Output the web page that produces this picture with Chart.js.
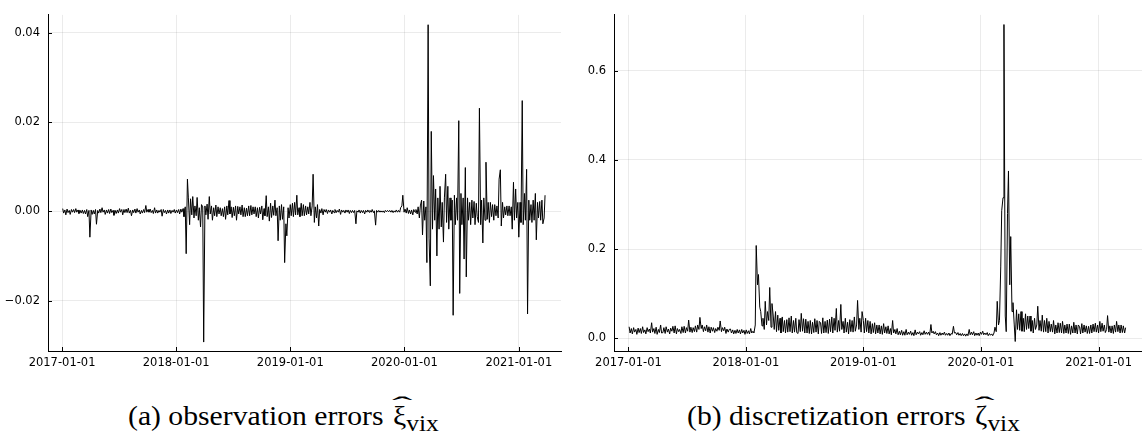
<!DOCTYPE html>
<html>
<head>
<meta charset="utf-8">
<script src="https://cdn.jsdelivr.net/npm/chart.js@4/dist/chart.umd.min.js"></script>
<style>
	body { margin: 0; background: #fff; width: 1142px; height: 438px; overflow: hidden; position: relative; }
	canvas { position: absolute; top: 0; }
	#obs-chart { left: 0; }
	#disc-chart { left: 571px; }
	.caption { position: absolute; top: 400px; font-family: "Liberation Serif", "DejaVu Serif", serif; font-size: 28px; color: #000; white-space: nowrap; transform-origin: left top; transform: scaleX(1.06); }
	.caption .hat { position: relative; display: inline-block; margin-left: 2px; }
	.caption .hat i { position: absolute; left: -1px; top: -8px; font-style: normal; font-size: 24px; transform: scaleX(2.4); transform-origin: left top; }
	.caption sub { font-size: 24px; vertical-align: -6px; }
</style>
</head>
<body>
<canvas id="obs-chart" width="571" height="375"></canvas>
<canvas id="disc-chart" width="571" height="375"></canvas>
<div class="caption" style="left:128px">(a) observation errors <span class="hat">ξ<i>ˆ</i></span><sub>vix</sub></div>
<div class="caption" style="left:687px">(b) discretization errors <span class="hat">ζ<i>ˆ</i></span><sub>vix</sub></div>
<script>
// Two samples a week (Tuesday, Friday), first one on 2017-01-03.
var firstDate = "2017-01-03";
var weekOffsets = [0, 3];

// Observation errors (left panel), one line = 5 weeks.
var obsErrors = [
	0.0006, -0.0004, 0.0003, -0.0008, 0.0005, -0.0003, 0.0002, -0.0007, 0.0004, -0.0002,
	0.0004, -0.0003, 0.0006, -0.0002, 0.0003, -0.0005, 0.0002, -0.0004, 0.0003, -0.0005,
	0.0002, -0.0006, 0.0004, -0.0012, 0.0002, -0.0058, 0.0003, -0.0007, 0.0002, -0.0006,
	0.0004, -0.0029, 0.0002, -0.0004, 0.0005, -0.0003, 0.0008, -0.0002, 0.0003, -0.0007,
	0.0003, -0.0004, 0.0004, -0.0005, 0.0005, -0.0003, 0.0002, -0.0009, 0.0002, -0.0005,
	0.0003, -0.0004, 0.0006, -0.0002, 0.0004, -0.0008, 0.0004, -0.0003, 0.0005, -0.0003,
	0.0007, -0.0004, 0.0002, -0.0010, 0.0003, -0.0003, 0.0005, -0.0004, 0.0006, -0.0002,
	0.0003, -0.0006, 0.0002, -0.0004, 0.0004, -0.0003, 0.0013, -0.0002, 0.0004, -0.0002,
	0.0005, -0.0003, 0.0002, -0.0005, 0.0008, -0.0004, 0.0003, -0.0004, 0.0002, -0.0002,
	0.0004, -0.0011, 0.0004, -0.0003, 0.0002, -0.0006, 0.0003, -0.0004, 0.0003, -0.0005,
	0.0002, -0.0002, 0.0004, -0.0004, 0.0003, -0.0003, 0.0004, -0.0006, 0.0005, -0.0002,
	0.0006, -0.0012, 0.0010, -0.0095, 0.0072, 0.0030, -0.0030, 0.0028, -0.0008, 0.0033,
	-0.0015, 0.0012, -0.0010, 0.0031, -0.0020, 0.0008, -0.0035, 0.0015, 0.0010, -0.0293,
	0.0012, -0.0008, 0.0016, -0.0018, 0.0033, -0.0006, 0.0012, -0.0020, 0.0008, -0.0010,
	0.0014, -0.0012, 0.0010, -0.0006, 0.0008, -0.0010, 0.0006, -0.0012, 0.0010, -0.0018,
	0.0012, -0.0008, 0.0024, -0.0006, 0.0010, -0.0014, 0.0009, -0.0010, 0.0012, -0.0020,
	0.0011, -0.0006, 0.0010, -0.0008, 0.0014, -0.0012, 0.0008, -0.0012, 0.0007, -0.0010,
	0.0012, -0.0010, 0.0013, -0.0008, 0.0010, -0.0006, 0.0010, -0.0012, 0.0008, -0.0015,
	0.0009, -0.0006, 0.0012, -0.0019, 0.0006, -0.0010, 0.0035, -0.0012, 0.0010, -0.0022,
	0.0018, -0.0014, 0.0012, -0.0009, 0.0025, -0.0010, 0.0008, -0.0066, 0.0012, -0.0020,
	0.0015, -0.0018, 0.0010, -0.0115, -0.0028, -0.0055, 0.0008, -0.0015, 0.0015, -0.0010,
	0.0018, -0.0012, 0.0020, -0.0008, 0.0036, -0.0008, 0.0008, -0.0012, 0.0018, -0.0010,
	0.0015, -0.0010, 0.0012, -0.0008, 0.0010, -0.0006, 0.0020, -0.0010, 0.0012, 0.0083,
	-0.0025, 0.0010, -0.0015, 0.0015, -0.0033, 0.0004, -0.0004, 0.0006, -0.0008, 0.0004,
	-0.0002, 0.0004, -0.0005, 0.0003, -0.0002, 0.0003, -0.0006, 0.0002, -0.0003, 0.0004,
	-0.0003, 0.0002, -0.0002, 0.0005, -0.0007, 0.0003, -0.0002, 0.0002, -0.0004, 0.0003,
	-0.0002, 0.0003, -0.0005, 0.0002, -0.0003, 0.0002, -0.0003, 0.0002, -0.0028, 0.0001,
	-0.0002, 0.0003, -0.0004, 0.0002, -0.0003, 0.0002, -0.0006, 0.0002, -0.0002, 0.0003,
	-0.0002, 0.0002, -0.0002, 0.0004, -0.0003, 0.0001, -0.0031, 0.0002, -0.0002, 0.0002,
	-0.0002, 0.0001, -0.0002, 0.0001, -0.0003, 0.0002, -0.0001, 0.0002, -0.0001, 0.0002,
	-0.0002, 0.0002, -0.0003, 0.0001, -0.0002, 0.0003, -0.0002, 0.0002, -0.0002, 0.0008,
	0.0012, 0.0036, -0.0002, 0.0005, -0.0004, 0.0008, -0.0005, 0.0003, -0.0006, 0.0003,
	-0.0008, 0.0004, -0.0002, 0.0004, -0.0006, 0.0010, -0.0015, 0.0012, 0.0025, -0.0053,
	0.0023, -0.0020, 0.0010, -0.0115, 0.0418, -0.0060, -0.0167, 0.0179, -0.0040, 0.0080,
	-0.0020, 0.0050, -0.0100, 0.0030, -0.0040, 0.0056, -0.0035, 0.0020, -0.0069, 0.0030,
	0.0083, -0.0025, 0.0056, -0.0040, 0.0030, -0.0020, 0.0025, -0.0233, 0.0036, -0.0030,
	0.0030, -0.0020, 0.0203, -0.0184, 0.0040, -0.0030, 0.0030, -0.0107, 0.0098, -0.0147,
	0.0030, -0.0020, 0.0020, -0.0030, 0.0025, -0.0015, 0.0022, -0.0030, 0.0018, -0.0012,
	-0.0025, 0.0231, -0.0030, 0.0025, -0.0071, 0.0030, -0.0020, 0.0110, -0.0018, 0.0020,
	-0.0025, 0.0020, -0.0012, 0.0015, -0.0020, 0.0015, -0.0010, 0.0012, -0.0015, 0.0072,
	0.0093, -0.0033, 0.0020, -0.0015, 0.0010, -0.0008, 0.0012, -0.0010, 0.0012, -0.0010,
	0.0010, -0.0040, 0.0065, -0.0020, 0.0050, -0.0015, 0.0020, -0.0058, 0.0020, -0.0025,
	0.0248, -0.0030, 0.0040, -0.0020, 0.0094, -0.0230, 0.0025, -0.0020, 0.0015, -0.0025,
	0.0025, -0.0020, 0.0040, -0.0064, 0.0020, -0.0015, 0.0022, -0.0020, 0.0025, -0.0028,
	-0.0015, 0.0036
];

// Discretization errors (right panel), one line = 5 weeks.
var discErrors = [
	0.026, 0.012, 0.022, 0.010, 0.024, 0.014, 0.020, 0.009, 0.023, 0.013,
	0.022, 0.011, 0.026, 0.013, 0.019, 0.010, 0.024, 0.015, 0.021, 0.012,
	0.035, 0.014, 0.022, 0.011, 0.025, 0.009, 0.020, 0.013, 0.030, 0.012,
	0.013, 0.024, 0.011, 0.026, 0.014, 0.021, 0.010, 0.023, 0.016, 0.027,
	0.012, 0.028, 0.010, 0.022, 0.015, 0.020, 0.011, 0.026, 0.013, 0.027,
	0.012, 0.024, 0.016, 0.041, 0.014, 0.025, 0.013, 0.024, 0.015, 0.028,
	0.014, 0.030, 0.020, 0.047, 0.022, 0.030, 0.015, 0.026, 0.017, 0.030,
	0.014, 0.026, 0.012, 0.025, 0.016, 0.024, 0.013, 0.022, 0.016, 0.025,
	0.018, 0.039, 0.015, 0.024, 0.017, 0.025, 0.011, 0.021, 0.014, 0.020,
	0.021, 0.012, 0.019, 0.010, 0.018, 0.011, 0.020, 0.012, 0.019, 0.010,
	0.020, 0.012, 0.018, 0.009, 0.019, 0.011, 0.017, 0.010, 0.022, 0.012,
	0.016, 0.012, 0.030, 0.208, 0.120, 0.143, 0.070, 0.060, 0.028, 0.045,
	0.020, 0.083, 0.030, 0.060, 0.040, 0.114, 0.025, 0.078, 0.050, 0.020,
	0.060, 0.015, 0.052, 0.018, 0.045, 0.012, 0.048, 0.015, 0.040, 0.012,
	0.042, 0.014, 0.046, 0.015, 0.050, 0.012, 0.040, 0.014, 0.045, 0.013,
	0.011, 0.042, 0.015, 0.056, 0.016, 0.044, 0.012, 0.043, 0.012, 0.038,
	0.011, 0.040, 0.010, 0.036, 0.013, 0.044, 0.014, 0.040, 0.010, 0.038,
	0.035, 0.011, 0.046, 0.012, 0.038, 0.013, 0.041, 0.011, 0.043, 0.015,
	0.048, 0.012, 0.045, 0.018, 0.067, 0.014, 0.040, 0.016, 0.076, 0.020,
	0.038, 0.012, 0.045, 0.014, 0.036, 0.010, 0.042, 0.015, 0.040, 0.014,
	0.048, 0.016, 0.030, 0.085, 0.020, 0.045, 0.014, 0.060, 0.040, 0.012,
	0.045, 0.015, 0.040, 0.012, 0.038, 0.010, 0.033, 0.013, 0.035, 0.010,
	0.030, 0.012, 0.030, 0.010, 0.028, 0.009, 0.033, 0.012, 0.026, 0.011,
	0.028, 0.010, 0.022, 0.008, 0.040, 0.012, 0.020, 0.010, 0.022, 0.008,
	0.016, 0.008, 0.018, 0.007, 0.015, 0.007, 0.020, 0.008, 0.014, 0.009,
	0.016, 0.007, 0.013, 0.006, 0.019, 0.008, 0.014, 0.010, 0.015, 0.007,
	0.013, 0.008, 0.017, 0.009, 0.014, 0.009, 0.014, 0.007, 0.031, 0.012,
	0.016, 0.010, 0.015, 0.008, 0.012, 0.006, 0.013, 0.007, 0.012, 0.008,
	0.014, 0.007, 0.011, 0.007, 0.012, 0.006, 0.011, 0.009, 0.027, 0.012,
	0.013, 0.008, 0.013, 0.007, 0.011, 0.006, 0.011, 0.006, 0.010, 0.005,
	0.010, 0.006, 0.020, 0.008, 0.014, 0.008, 0.015, 0.006, 0.012, 0.007,
	0.012, 0.006, 0.014, 0.009, 0.016, 0.008, 0.012, 0.008, 0.013, 0.006,
	0.011, 0.007, 0.010, 0.006, 0.012, 0.025, 0.015, 0.083, 0.030, 0.040,
	0.160, 0.286, 0.315, 0.703, 0.050, 0.015, 0.280, 0.375, 0.120, 0.228,
	0.060, 0.080, 0.030, -0.007, 0.064, 0.020, 0.055, 0.018, 0.060, 0.016,
	0.045, 0.015, 0.055, 0.020, 0.050, 0.022, 0.050, 0.016, 0.040, 0.012,
	0.045, 0.020, 0.030, 0.072, 0.018, 0.040, 0.016, 0.052, 0.014, 0.040,
	0.015, 0.045, 0.012, 0.038, 0.015, 0.032, 0.014, 0.040, 0.010, 0.030,
	0.012, 0.035, 0.013, 0.034, 0.012, 0.038, 0.011, 0.030, 0.012, 0.032,
	0.011, 0.032, 0.009, 0.028, 0.012, 0.036, 0.012, 0.030, 0.010, 0.030,
	0.026, 0.010, 0.033, 0.012, 0.030, 0.014, 0.028, 0.011, 0.027, 0.011,
	0.030, 0.012, 0.032, 0.015, 0.034, 0.014, 0.030, 0.012, 0.038, 0.015,
	0.034, 0.016, 0.030, 0.013, 0.020, 0.051, 0.014, 0.028, 0.012, 0.028,
	0.011, 0.030, 0.014, 0.038, 0.015, 0.030, 0.012, 0.030, 0.013, 0.028,
	0.012, 0.024
];

// Axis ticks.
var dateTicks = ["2017-01-01", "2018-01-01", "2019-01-01", "2020-01-01", "2021-01-01"];
var obsTicks = [-0.02, 0, 0.02, 0.04];
var obsTickLabels = ["\u22120.02", "0.00", "0.02", "0.04"];
var discTicks = [0, 0.2, 0.4, 0.6];
var discTickLabels = ["0.0", "0.2", "0.4", "0.6"];

var DAY = 86400000;
var origin = Date.UTC(2017, 0, 1);
function dayOf(s) {
	var p = s.split("-");
	return (Date.UTC(+p[0], +p[1] - 1, +p[2]) - origin) / DAY;
}
var firstDay = dayOf(firstDate);
var dateTickDays = dateTicks.map(dayOf);

function toPoints(values) {
	var n = weekOffsets.length;
	return values.map(function (v, i) {
		return { x: firstDay + 7 * Math.floor(i / n) + weekOffsets[i % n], y: v };
	});
}

// Small inward tick marks, like the GR backend draws them.
var innerTicks = {
	id: "innerTicks",
	afterDraw: function (chart) {
		var ctx = chart.ctx, area = chart.chartArea;
		var xs = chart.scales.x, ys = chart.scales.y;
		ctx.save();
		ctx.strokeStyle = "#000";
		ctx.lineWidth = 1;
		ctx.beginPath();
		xs.ticks.forEach(function (t) {
			var px = Math.round(xs.getPixelForValue(t.value)) + 0.5;
			ctx.moveTo(px, area.bottom);
			ctx.lineTo(px, area.bottom - 4);
		});
		ys.ticks.forEach(function (t) {
			var py = Math.round(ys.getPixelForValue(t.value)) + 0.5;
			ctx.moveTo(area.left, py);
			ctx.lineTo(area.left + 4, py);
		});
		ctx.stroke();
		ctx.restore();
	}
};

function makeChart(id, values, yMin, yMax, yTicks, yLabels, yWidth, padRight) {
	return new Chart(document.getElementById(id), {
		type: "line",
		data: {
			datasets: [{
				data: toPoints(values),
				borderColor: "#000",
				borderWidth: 1,
				pointRadius: 0,
				tension: 0,
				fill: false
			}]
		},
		options: {
			responsive: false,
			animation: false,
			devicePixelRatio: 1,
			layout: { padding: { top: 5, right: padRight, bottom: 0, left: 0 } },
			plugins: { legend: { display: false }, tooltip: { enabled: false } },
			scales: {
				x: {
					type: "linear",
					min: -45,
					max: 1596,
					afterBuildTicks: function (scale) {
						scale.ticks = dateTickDays.map(function (d) { return { value: d }; });
					},
					afterFit: function (scale) { scale.height = 24; },
					ticks: {
						color: "#000",
						font: { family: "DejaVu Sans", size: 11.5 },
						padding: 5,
						maxRotation: 0,
						autoSkip: false,
						callback: function (v, i) { return dateTicks[i]; }
					},
					grid: { color: "rgba(0,0,0,0.08)", drawTicks: false },
					border: { color: "#000", width: 1 }
				},
				y: {
					min: yMin,
					max: yMax,
					afterBuildTicks: function (scale) {
						scale.ticks = yTicks.map(function (v) { return { value: v }; });
					},
					afterFit: function (scale) { scale.width = yWidth; },
					ticks: {
						color: "#000",
						font: { family: "DejaVu Sans", size: 11.5 },
						padding: 8,
						autoSkip: false,
						callback: function (v, i) { return yLabels[i]; }
					},
					grid: { color: "rgba(0,0,0,0.08)", drawTicks: false },
					border: { color: "#000", width: 1 }
				}
			}
		},
		plugins: [innerTicks]
	});
}

makeChart("obs-chart", obsErrors, -0.0313, 0.0440, obsTicks, obsTickLabels, 48, 10);
makeChart("disc-chart", discErrors, -0.0283, 0.7246, discTicks, discTickLabels, 43, 0);
</script>
</body>
</html>
